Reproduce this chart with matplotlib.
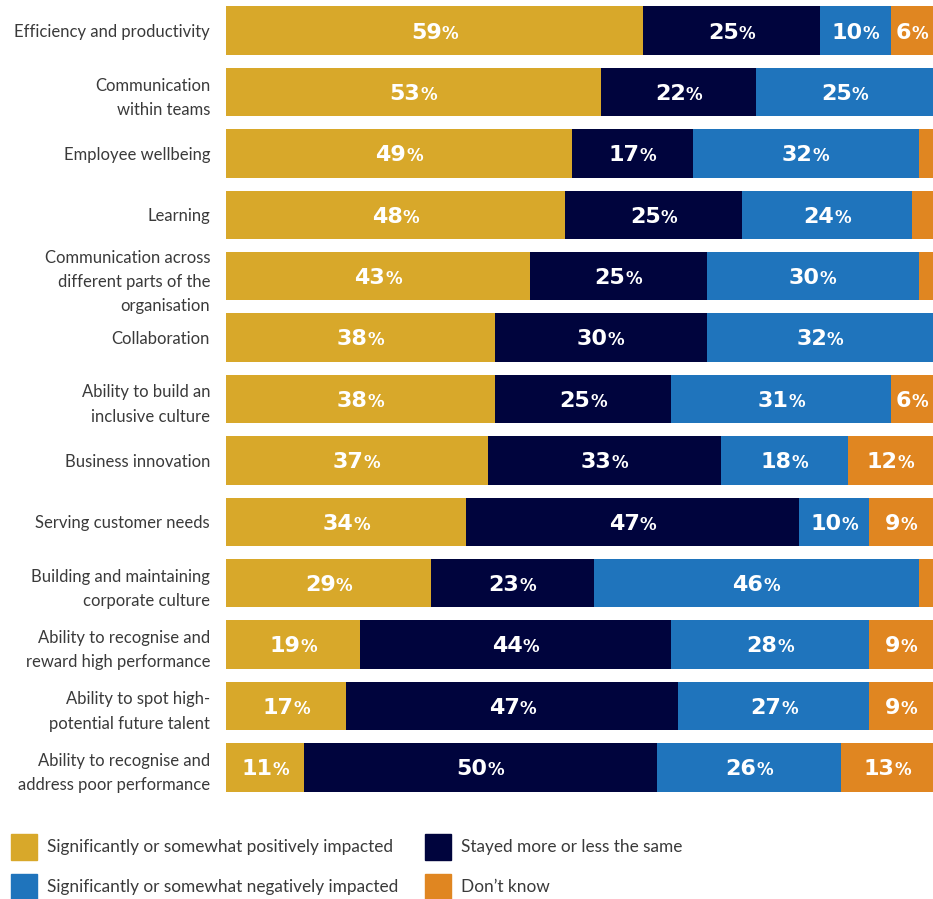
import matplotlib
matplotlib.use("Agg")
import matplotlib.pyplot as plt
from matplotlib.patches import Rectangle
from matplotlib.offsetbox import TextArea, HPacker, AnnotationBbox

categories = [
    "Efficiency and productivity",
    "Communication\nwithin teams",
    "Employee wellbeing",
    "Learning",
    "Communication across\ndifferent parts of the\norganisation",
    "Collaboration",
    "Ability to build an\ninclusive culture",
    "Business innovation",
    "Serving customer needs",
    "Building and maintaining\ncorporate culture",
    "Ability to recognise and\nreward high performance",
    "Ability to spot high-\npotential future talent",
    "Ability to recognise and\naddress poor performance",
]
positive = [59, 53, 49, 48, 43, 38, 38, 37, 34, 29, 19, 17, 11]
same = [25, 22, 17, 25, 25, 30, 25, 33, 47, 23, 44, 47, 50]
negative = [10, 25, 32, 24, 30, 32, 31, 18, 10, 46, 28, 27, 26]
dont_know = [6, 0, 2, 3, 2, 0, 6, 12, 9, 2, 9, 9, 13]

series_names = [
    "Significantly or somewhat positively impacted",
    "Stayed more or less the same",
    "Significantly or somewhat negatively impacted",
    "Don\u2019t know",
]
colors = ["#D8A82A", "#00043D", "#1F74BC", "#E08621"]

label_font = "Lato"
value_font = "DejaVu Sans"
text_color = "#3a3a3a"

fig = plt.figure(figsize=(9.33, 8.99), dpi=100)
ax = fig.add_axes([226 / 933, 1 - 798 / 899, 1 - 226 / 933, 798 / 899])

series = [positive, same, negative, dont_know]
ys = list(range(len(categories)))
left = [0] * len(categories)
for vals, col in zip(series, colors):
    ax.barh(ys, vals, left=left, height=0.79, color=col, edgecolor="none")
    for y, v, l in zip(ys, vals, left):
        if v >= 5:
            num = TextArea(str(v), textprops=dict(color="white", fontsize=16,
                                                  fontweight="bold", family=value_font))
            pct = TextArea("%", textprops=dict(color="white", fontsize=12,
                                               fontweight="bold", family=value_font))
            box = HPacker(children=[num, pct], align="baseline", pad=0, sep=0)
            ab = AnnotationBbox(box, (l + v / 2, y + 0.03), frameon=False,
                                box_alignment=(0.5, 0.5), pad=0)
            ax.add_artist(ab)
    left = [a + b for a, b in zip(left, vals)]

ax.set_xlim(0, 100)
ax.set_ylim(len(categories) - 0.5, -0.5)
ax.set_yticks(ys)
ax.set_yticklabels(categories, fontsize=12, family=label_font, color=text_color,
                   linespacing=1.65)
ax.tick_params(axis="y", length=0, pad=11.5)
ax.set_xticks([])
for s in ax.spines.values():
    s.set_visible(False)

# legend drawn by hand in two columns
W, H = 933, 899
legend_rows = [(847, 0, 1), (887, 2, 3)]
for yc, a, b in legend_rows:
    for xbox, xtext, idx in [(11, 47, a), (425, 461, b)]:
        fig.patches.append(Rectangle((xbox / W, 1 - (yc + 13) / H), 26 / W, 26 / H,
                                     transform=fig.transFigure, color=colors[idx]))
        fig.text(xtext / W, 1 - yc / H, series_names[idx], fontsize=12.4,
                 family=label_font, color=text_color, va="center", ha="left")

fig.savefig("out.png", dpi=100)
